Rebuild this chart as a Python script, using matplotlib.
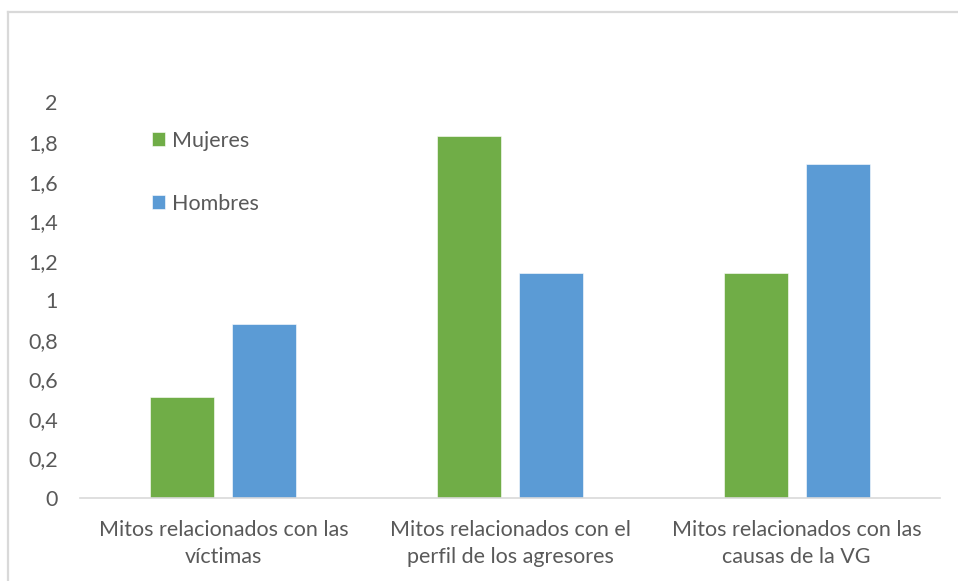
import matplotlib
matplotlib.use("Agg")
import matplotlib.pyplot as plt
from matplotlib.lines import Line2D
import numpy as np

categories = ["Mitos relacionados con las\nvíctimas",
              "Mitos relacionados con el\nperfil de los agresores",
              "Mitos relacionados con las\ncausas de la VG"]
mujeres = [0.51, 1.83, 1.14]
hombres = [0.88, 1.14, 1.69]
yticks = [0, 0.2, 0.4, 0.6, 0.8, 1, 1.2, 1.4, 1.6, 1.8, 2]
ytick_labels = ["0", "0,2", "0,4", "0,6", "0,8", "1", "1,2", "1,4", "1,6", "1,8", "2"]

plt.rcParams['font.family'] = ['Lato', 'DejaVu Sans']
W, H = 958, 581
fig = plt.figure(figsize=(W / 100, H / 100), dpi=100)
ax = fig.add_axes([80 / W, 1 - 498 / H, 860 / W, (498 - 102.5) / H])

x = np.arange(len(categories))
bw = 0.223
off = 0.143
green = "#70AD47"
blue = "#5B9BD5"
ax.bar(x - off, mujeres, bw, color=green, label="Mujeres", edgecolor="white", linewidth=0.4)
ax.bar(x + off, hombres, bw, color=blue, label="Hombres", edgecolor="white", linewidth=0.4)

ax.set_xlim(-0.5, 2.5)
ax.set_ylim(0, 2)
ax.set_yticks(yticks)
ax.set_yticklabels(ytick_labels)
ax.set_xticks(x)
ax.set_xticklabels(categories, linespacing=1.45)
ax.tick_params(axis='y', length=0, pad=16, labelsize=15.5, labelcolor="#595959")
ax.tick_params(axis='x', length=0, pad=16, labelsize=15.5, labelcolor="#595959")
for s in ["top", "right", "left"]:
    ax.spines[s].set_visible(False)
ax.spines["bottom"].set_color("#D9D9D9")
ax.spines["bottom"].set_linewidth(1.2)

leg = ax.legend(loc="upper left", bbox_to_anchor=(63 / 860, (498 - 122) / (498 - 102.5)),
                frameon=False, fontsize=15.5, labelcolor="#595959",
                handlelength=0.6, handleheight=0.6, handletextpad=0.35,
                labelspacing=2.0, borderaxespad=0)

# outer chart frame (left and top)
fig.add_artist(Line2D([8 / W, 8 / W], [0, 1 - 12 / H], transform=fig.transFigure,
                      color="#D9D9D9", linewidth=1.6))
fig.add_artist(Line2D([8 / W, 1], [1 - 12 / H, 1 - 12 / H], transform=fig.transFigure,
                      color="#D9D9D9", linewidth=1.6))

fig.savefig("out.png", dpi=100, facecolor="white")
